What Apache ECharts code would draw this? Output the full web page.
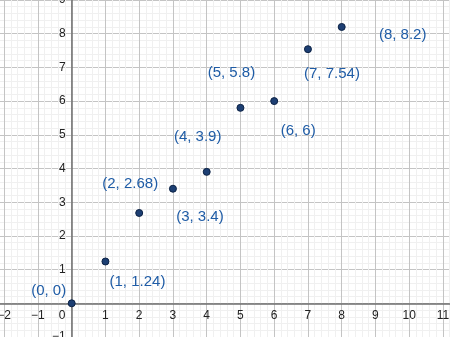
<!DOCTYPE html>
<html>
<head>
<meta charset="utf-8">
<script src="https://cdn.jsdelivr.net/npm/echarts@6/dist/echarts.min.js"></script>
<style>
html,body{margin:0;padding:0;background:#fff;}
#chart{width:450px;height:337px;}
</style>
</head>
<body>
<div id="chart"></div>
<script>
// Data
var xValues = [0, 1, 2, 3, 4, 5, 6, 7, 8];
var yValues = [0, 1.24, 2.68, 3.4, 3.9, 5.8, 6, 7.54, 8.2];
// Axis ranges (tick labels are integers, step 1)
var xRange = [-3, 12];
var yRange = [-2, 10];
// Label placement (pixel offsets of each point label from its point)
var labelOffsets = [[-23, -12], [32, 20], [-9, -29], [27, 28], [-9, -35], [-9, -35], [24, 30], [24, 25], [61, 8]];

var points = xValues.map(function (x, i) {
  return {
    value: [x, yValues[i]],
    label: { offset: labelOffsets[i] }
  };
});

function fmtNum(v) {
  return String(v).replace('-', '\u2212');
}

var chart = echarts.init(document.getElementById('chart'), null, { renderer: 'canvas' });
var FONT = 'Liberation Sans, Arial, sans-serif';

chart.setOption({
  animation: false,
  backgroundColor: '#ffffff',
  grid: { left: -29.55, right: -26.7, top: -33.7, bottom: -33.7, containLabel: false, outerBoundsMode: 'none' },
  xAxis: {
    type: 'value',
    position: 'bottom',
    offset: -67.4,
    min: xRange[0], max: xRange[1], interval: 1,
    axisLine: { onZero: false, lineStyle: { color: '#6e6e6e', width: 1.5 } },
    axisTick: { show: false },
    minorTick: { show: false, splitNumber: 5 },
    axisLabel: {
      show: true,
      margin: 6,
      fontFamily: FONT, fontSize: 12, color: '#222',
      formatter: function (v) { return v === 0 ? '{z|0}' : fmtNum(v); },
      rich: { z: { padding: [0, 19, 0, 0], fontFamily: FONT, fontSize: 12, color: '#222' } }
    },
    splitLine: { show: true, lineStyle: { color: '#c4c4c4', width: 1 } },
    minorSplitLine: { show: true, lineStyle: { color: '#f0f0f0', width: 1 } }
  },
  yAxis: {
    type: 'value',
    position: 'left',
    offset: -101.25,
    min: yRange[0], max: yRange[1], interval: 1,
    axisLine: { onZero: false, lineStyle: { color: '#6e6e6e', width: 1.5 } },
    axisTick: { show: false },
    minorTick: { show: false, splitNumber: 5 },
    axisLabel: {
      show: true,
      margin: 6,
      fontFamily: FONT, fontSize: 12, color: '#222',
      formatter: function (v) { return v === 0 ? '' : fmtNum(v); }
    },
    splitLine: { show: true, lineStyle: { color: '#c4c4c4', width: 1 } },
    minorSplitLine: { show: true, lineStyle: { color: '#f0f0f0', width: 1 } }
  },
  series: [{
    type: 'scatter',
    data: points,
    symbolSize: 7,
    itemStyle: { color: '#1d3f73', borderColor: '#0c2245', borderWidth: 1, opacity: 1 },
    label: {
      show: true,
      position: 'inside',
      align: 'center',
      verticalAlign: 'middle',
      fontFamily: FONT,
      fontSize: 15,
      color: '#1f5ca6',
      formatter: function (p) { return '(' + p.value[0] + ', ' + p.value[1] + ')'; }
    },
    emphasis: { disabled: true },
    z: 5
  }]
});
</script>
</body>
</html>
